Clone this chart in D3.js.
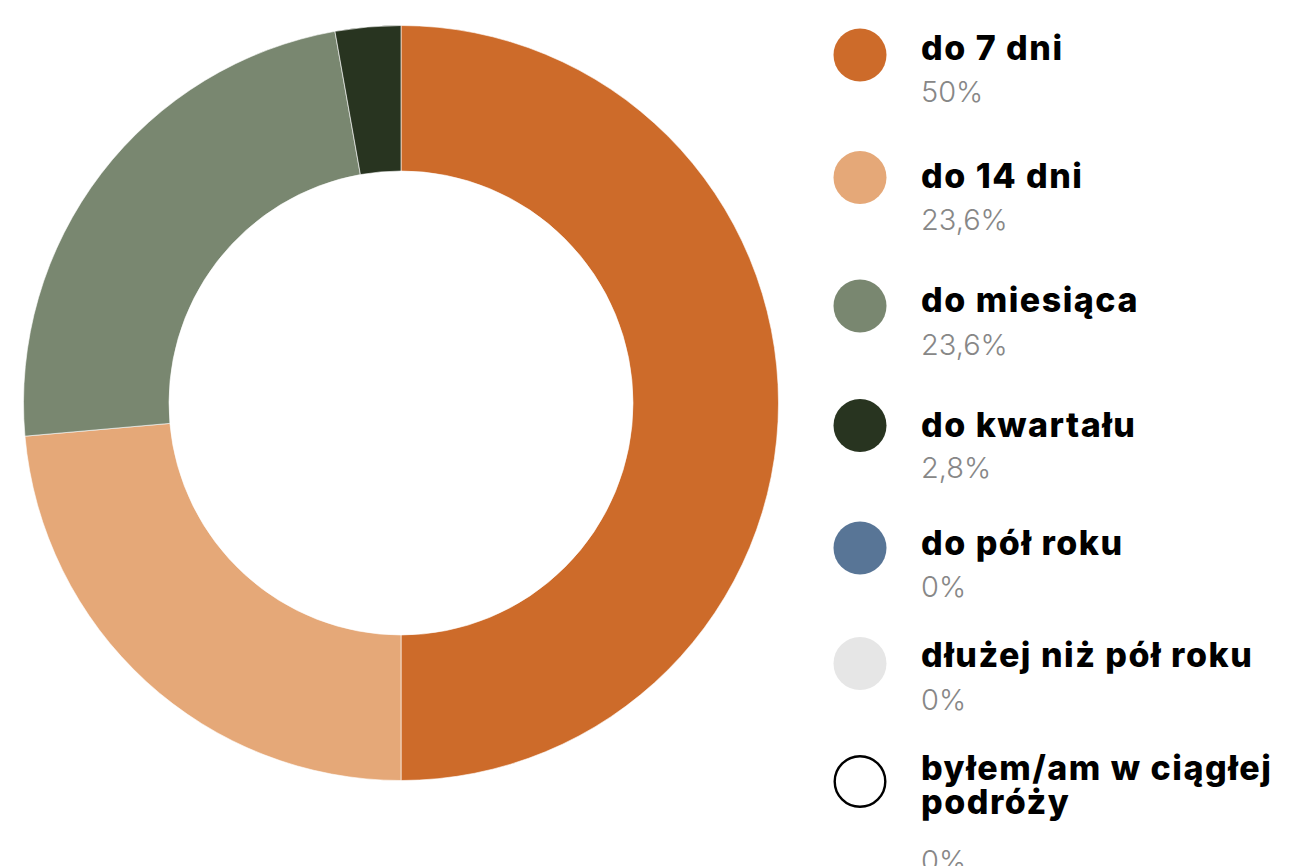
<!DOCTYPE html>
<html>
<head>
<meta charset="utf-8">
<script src="https://cdn.jsdelivr.net/npm/d3@7"></script>
<style>
  html, body { margin: 0; padding: 0; background: #fff; }
  svg { display: block; }
</style>
</head>
<body>
<svg id="chart" width="1312" height="866"></svg>
<script>
// ---- data ----
const categories = ["do 7 dni", "do 14 dni", "do miesiąca", "do kwartału", "do pół roku", "dłużej niż pół roku", "byłem/am w ciągłej podróży"];
const values = [50, 23.6, 23.6, 2.8, 0, 0, 0];
const valueLabels = ["50%", "23,6%", "23,6%", "2,8%", "0%", "0%", "0%"];
const colors = ["#CD6B2A", "#E5A878", "#798770", "#283420", "#587596", "#E6E6E6", "#FFFFFF"];

// ---- layout ----
const W = 1312, H = 866;
const cx = 401, cy = 403, rOuter = 377.5, rInner = 232;
const legendX = 860, legendR = 26.5, textX = 921;
const circleY = [55, 177.5, 306, 425.5, 548, 663.5, 781.5];
const labelY = [60, 188, 312, 437, 555, 667, 780];
const valueY = [102, 230, 355, 478, 597, 710, 871];
const lineH = 34;
const labelLines = [["do 7 dni"], ["do 14 dni"], ["do miesiąca"], ["do kwartału"], ["do pół roku"], ["dłużej niż pół roku"], ["byłem/am w ciągłej", "podróży"]];

const svg = d3.select("#chart");

const pie = d3.pie().sort(null).value(d => d).startAngle(0).endAngle(2 * Math.PI);
const arc = d3.arc().innerRadius(rInner).outerRadius(rOuter);

svg.append("g")
  .attr("transform", `translate(${cx},${cy})`)
  .selectAll("path")
  .data(pie(values))
  .join("path")
  .attr("d", arc)
  .attr("fill", (d, i) => colors[i])
  .attr("stroke", "#ffffff")
  .attr("stroke-width", d => d.data > 0 ? 0.6 : 0);

const legend = svg.append("g");
const items = legend.selectAll("g.item")
  .data(categories)
  .join("g")
  .attr("class", "item");

items.append("circle")
  .attr("cx", legendX)
  .attr("cy", (d, i) => circleY[i])
  .attr("r", (d, i) => i === 6 ? legendR - 1.2 : legendR)
  .attr("fill", (d, i) => colors[i])
  .attr("stroke", (d, i) => i === 6 ? "#000" : "none")
  .attr("stroke-width", 2.4);

const labelFont = "Inter, 'Noto Sans', sans-serif";
items.each(function(d, i) {
  d3.select(this).selectAll("text.label")
    .data(labelLines[i])
    .join("text")
    .attr("class", "label")
    .attr("x", textX)
    .attr("y", (t, j) => labelY[i] + j * lineH)
    .attr("font-family", labelFont)
    .attr("font-weight", 800)
    .attr("font-size", 34)
    .attr("letter-spacing", 1.5)
    .attr("fill", "#000")
    .text(t => t);
});

items.append("text")
  .attr("x", textX)
  .attr("y", (d, i) => valueY[i])
  .attr("font-family", labelFont)
  .attr("font-weight", 300)
  .attr("font-size", 29)
  .attr("fill", "#878787")
  .text((d, i) => valueLabels[i]);
</script>
</body>
</html>
